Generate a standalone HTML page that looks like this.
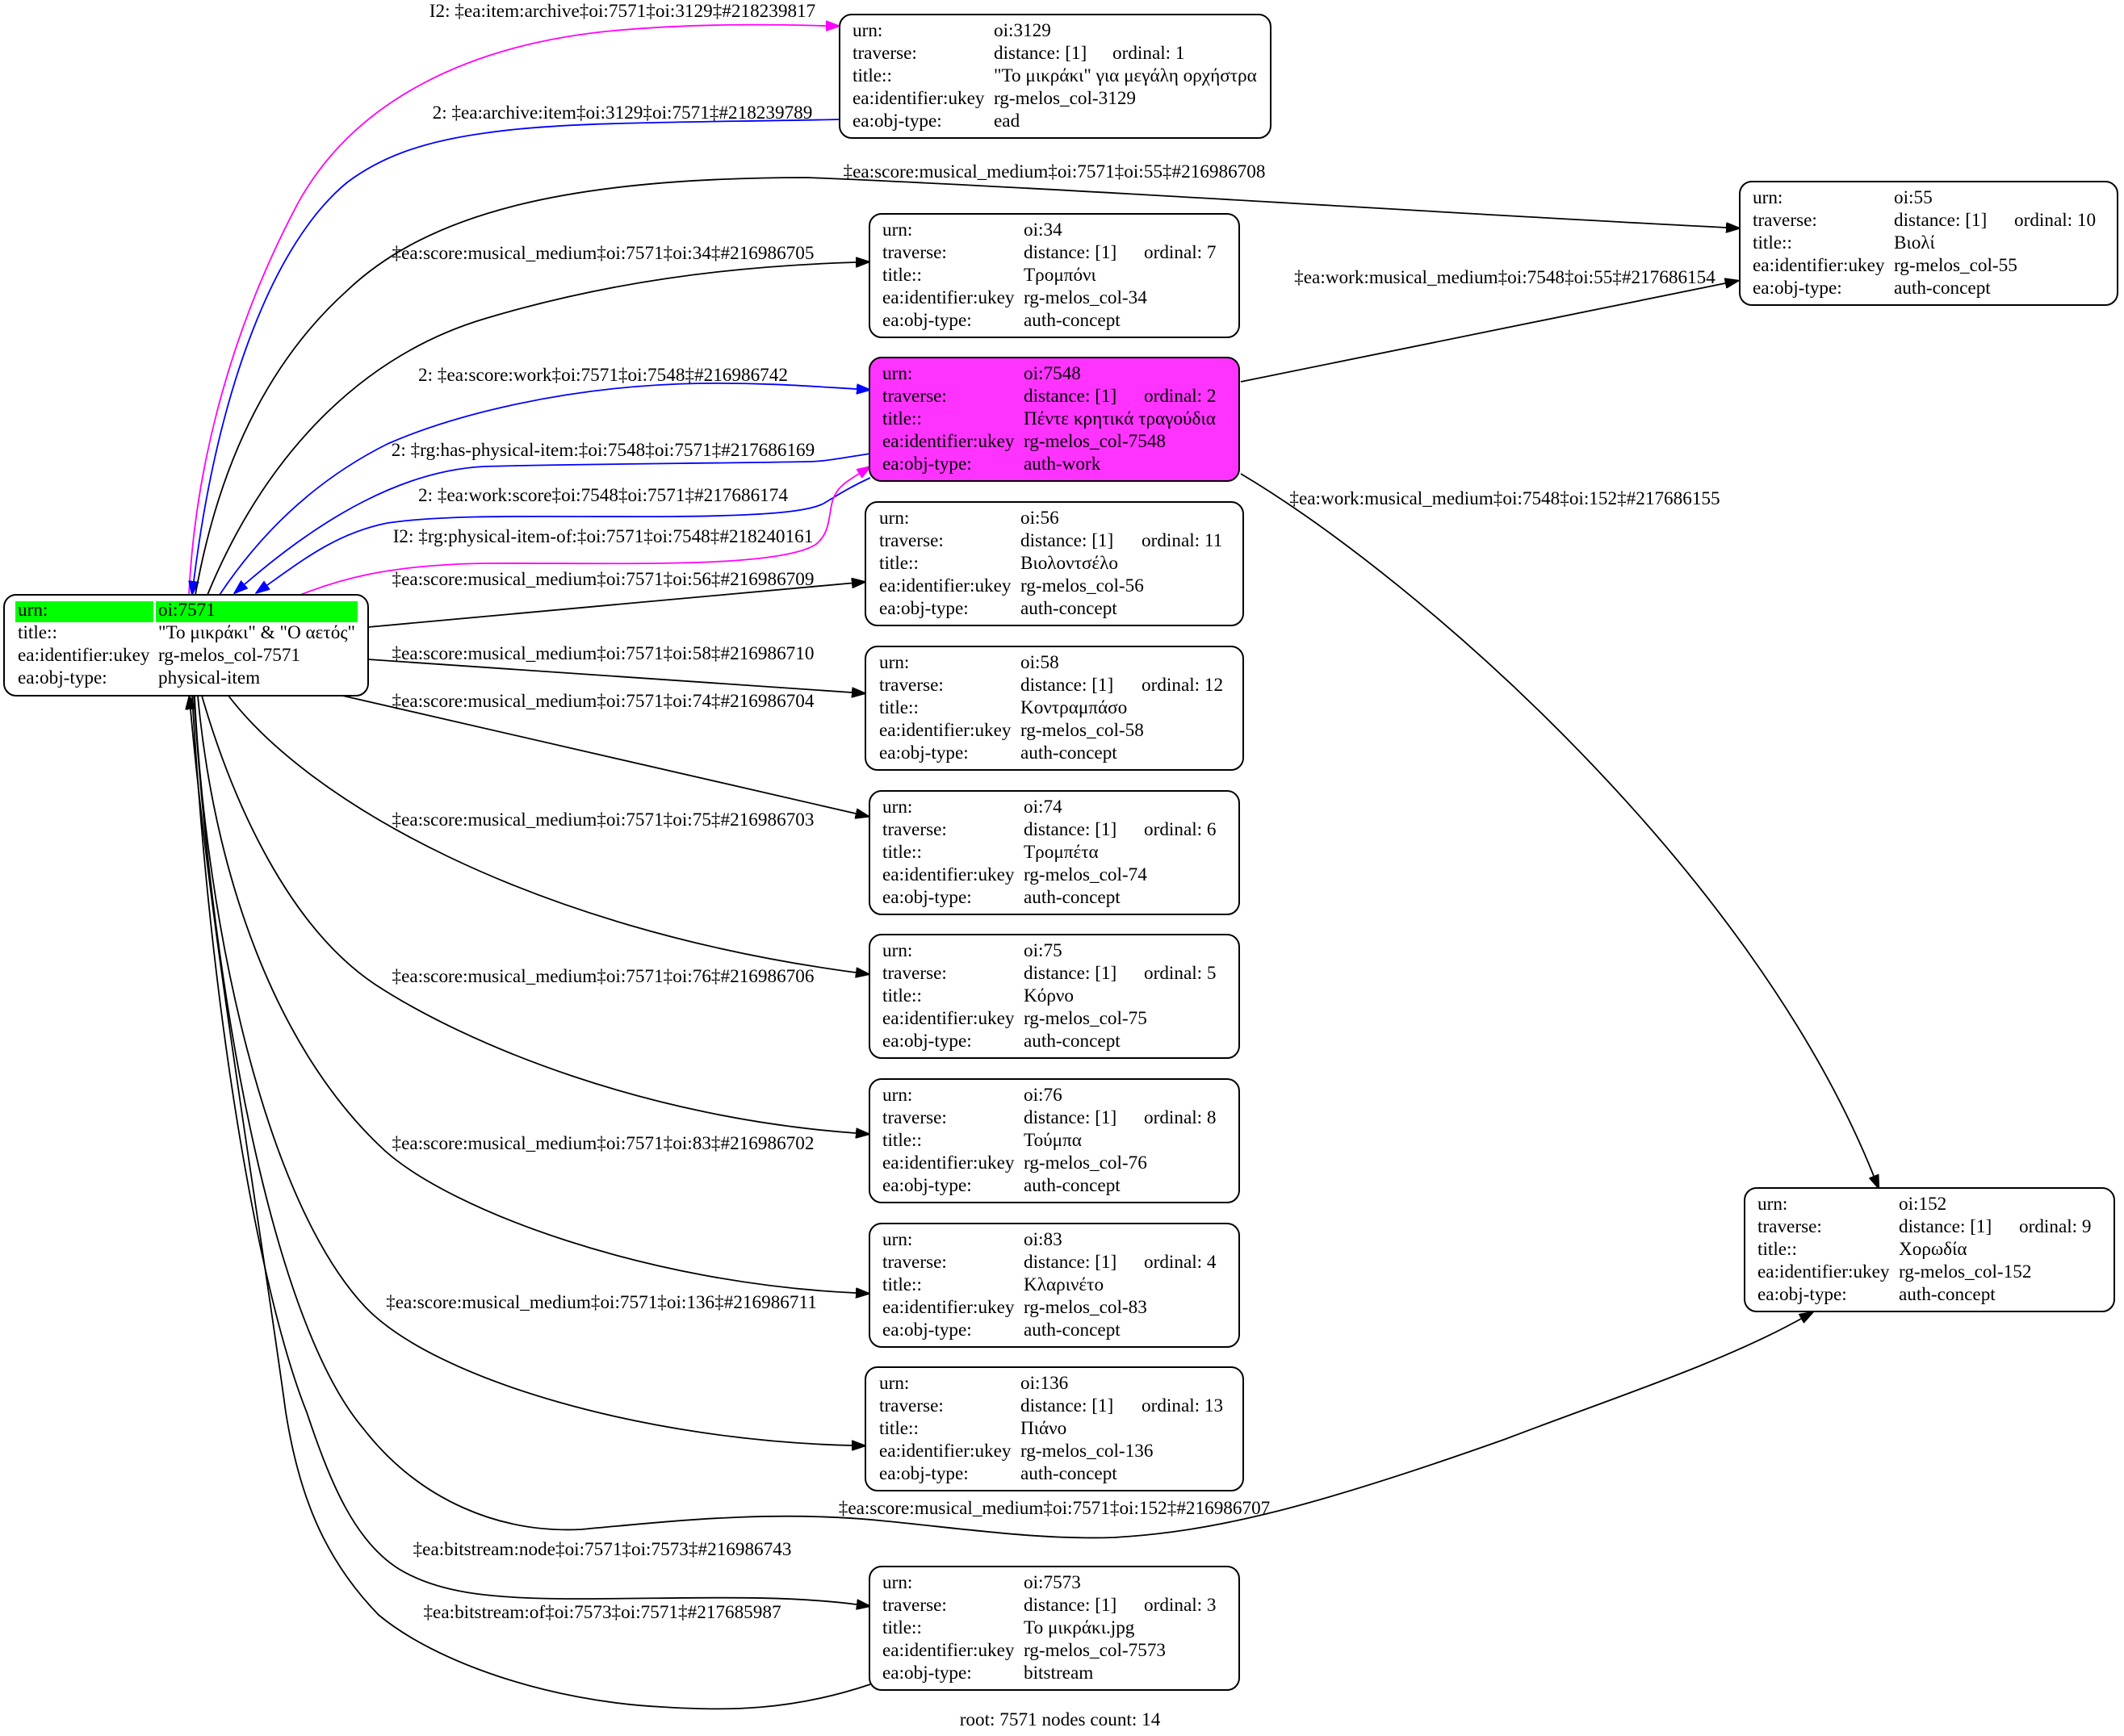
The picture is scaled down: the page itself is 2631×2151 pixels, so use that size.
<!DOCTYPE html>
<html>
<head>
<meta charset="utf-8">
<style>
html,body{margin:0;padding:0;background:#fff;}
svg{display:block;}
text{font-family:"Liberation Serif","DejaVu Serif",serif;font-size:23.2px;fill:#000;}
</style>
</head>
<body>
<svg width="2631" height="2151" viewBox="0 0 2631 2151" xmlns="http://www.w3.org/2000/svg">
<defs>
<marker id="ab" markerUnits="userSpaceOnUse" markerWidth="18" markerHeight="13" viewBox="0 0 17 12" refX="0" refY="6" orient="auto"><path d="M0,0 L17,6 L0,12 z" fill="#000" stroke="#000" stroke-width="1"/></marker>
<marker id="au" markerUnits="userSpaceOnUse" markerWidth="18" markerHeight="13" viewBox="0 0 17 12" refX="0" refY="6" orient="auto"><path d="M0,0 L17,6 L0,12 z" fill="#0000ff" stroke="#0000ff" stroke-width="1"/></marker>
<marker id="am" markerUnits="userSpaceOnUse" markerWidth="18" markerHeight="13" viewBox="0 0 17 12" refX="0" refY="6" orient="auto"><path d="M0,0 L17,6 L0,12 z" fill="#ff00ff" stroke="#ff00ff" stroke-width="1"/></marker>
</defs>
<rect x="0" y="0" width="2631" height="2151" fill="#fff"/>

<!-- EDGES -->
<g fill="none" stroke-width="1.8">
<path d="M234,737 C242,570 290,400 370,250 C440,125 580,55 760,38 C860,29 950,30 1023,32" stroke="#ff00ff" marker-end="url(#am)"/>
<path d="M1040,148 C850,152 700,150 600,165 C520,176 470,196 430,226 C340,300 270,480 240,720" stroke="#0000ff" marker-end="url(#au)"/>
<path d="M242,737 C270,580 330,450 430,360 C530,265 700,220 1000,220 C1300,232 1800,265 2138,282" stroke="#000" marker-end="url(#ab)"/>
<path d="M257,737 C330,560 450,440 600,395 C750,350 900,330 1060,325" stroke="#000" marker-end="url(#ab)"/>
<path d="M272,737 C330,650 400,590 480,550 C560,515 700,478 867,475 C950,474 1010,479 1061,482" stroke="#0000ff" marker-end="url(#au)"/>
<path d="M1078,562 C1040,568 1020,572 1000,572 C900,574 700,575 600,578 C500,583 400,640 303,724" stroke="#0000ff" marker-end="url(#au)"/>
<path d="M1078,592 C1050,605 1035,615 1020,624 C1000,634 950,639 833,640 C700,641 560,636 480,648 C420,660 380,690 331,725" stroke="#0000ff" marker-end="url(#au)"/>
<path d="M372,737 C420,718 480,700 600,698 C760,697 960,705 1010,675 C1030,660 1026,635 1032,618 C1038,603 1048,597 1064,587" stroke="#ff00ff" marker-end="url(#am)"/>
<path d="M456,777 L1055,722.5" stroke="#000" marker-end="url(#ab)"/>
<path d="M456,817 L1055,858" stroke="#000" marker-end="url(#ab)"/>
<path d="M420,861 L1060,1008" stroke="#000" marker-end="url(#ab)"/>
<path d="M283,862 C380,990 650,1150 1060,1205" stroke="#000" marker-end="url(#ab)"/>
<path d="M250,862 C290,1000 360,1150 465,1220 C580,1295 800,1385 1060,1404" stroke="#000" marker-end="url(#ab)"/>
<path d="M245,862 C265,1080 340,1300 477,1426 C560,1500 800,1590 1060,1602" stroke="#000" marker-end="url(#ab)"/>
<path d="M241,862 C255,1150 330,1490 453,1620 C540,1710 800,1785 1055,1791" stroke="#000" marker-end="url(#ab)"/>
<path d="M240,862 C265,1250 340,1640 450,1770 C520,1860 620,1900 720,1895 C830,1885 960,1870 1100,1885 C1200,1895 1290,1908 1380,1905 C1500,1898 1620,1870 1865,1783 C1990,1735 2130,1690 2231,1634" stroke="#000" marker-end="url(#ab)"/>
<path d="M238,862 C260,1250 320,1600 380,1750 C410,1840 440,1910 494,1944 C540,1972 600,1981 711,1981 C850,1981 960,1975 1061,1988" stroke="#000" marker-end="url(#ab)"/>
<path d="M1078,2087 C980,2120 900,2120 820,2115 C680,2108 540,2060 469,2001 C400,1930 370,1850 354,1750 C320,1500 260,1150 236,879" stroke="#000" marker-end="url(#ab)"/>
<path d="M1537,473 L2137,351" stroke="#000" marker-end="url(#ab)"/>
<path d="M1537,587 C1760,720 2170,1080 2321,1457" stroke="#000" marker-end="url(#ab)"/>
</g>

<!-- EDGE LABELS -->
<g text-anchor="middle">
<text x="771" y="21">I2: ‡ea:item:archive‡oi:7571‡oi:3129‡#218239817</text>
<text x="771" y="147">2: ‡ea:archive:item‡oi:3129‡oi:7571‡#218239789</text>
<text x="1306" y="220">‡ea:score:musical_medium‡oi:7571‡oi:55‡#216986708</text>
<text x="747" y="321">‡ea:score:musical_medium‡oi:7571‡oi:34‡#216986705</text>
<text x="1864" y="351">‡ea:work:musical_medium‡oi:7548‡oi:55‡#217686154</text>
<text x="747" y="472">2: ‡ea:score:work‡oi:7571‡oi:7548‡#216986742</text>
<text x="747" y="565">2: ‡rg:has-physical-item:‡oi:7548‡oi:7571‡#217686169</text>
<text x="747" y="621">2: ‡ea:work:score‡oi:7548‡oi:7571‡#217686174</text>
<text x="1864" y="625">‡ea:work:musical_medium‡oi:7548‡oi:152‡#217686155</text>
<text x="747" y="672">I2: ‡rg:physical-item-of:‡oi:7571‡oi:7548‡#218240161</text>
<text x="747" y="725">‡ea:score:musical_medium‡oi:7571‡oi:56‡#216986709</text>
<text x="747" y="817">‡ea:score:musical_medium‡oi:7571‡oi:58‡#216986710</text>
<text x="747" y="876">‡ea:score:musical_medium‡oi:7571‡oi:74‡#216986704</text>
<text x="747" y="1023">‡ea:score:musical_medium‡oi:7571‡oi:75‡#216986703</text>
<text x="747" y="1217">‡ea:score:musical_medium‡oi:7571‡oi:76‡#216986706</text>
<text x="747" y="1424">‡ea:score:musical_medium‡oi:7571‡oi:83‡#216986702</text>
<text x="745" y="1621">‡ea:score:musical_medium‡oi:7571‡oi:136‡#216986711</text>
<text x="1306" y="1876">‡ea:score:musical_medium‡oi:7571‡oi:152‡#216986707</text>
<text x="746" y="1927">‡ea:bitstream:node‡oi:7571‡oi:7573‡#216986743</text>
<text x="746" y="2005">‡ea:bitstream:of‡oi:7573‡oi:7571‡#217685987</text>
<text x="1313" y="2138">root: 7571 nodes count: 14</text>
</g>

<!-- ROOT NODE 7571 -->
<g transform="translate(5,737)">
<rect x="0" y="0" width="451" height="125" rx="15" ry="15" fill="#fff" stroke="#000" stroke-width="2"/>
<rect x="14" y="8" width="171" height="26" fill="#00ff00"/>
<rect x="188" y="8" width="250" height="26" fill="#00ff00"/>
<text x="17" y="26">urn:</text><text x="191" y="26">oi:7571</text>
<text x="17" y="54">title::</text><text x="191" y="54">"Το μικράκι" &amp; "Ο αετός"</text>
<text x="17" y="82">ea:identifier:ukey</text><text x="191" y="82">rg-melos_col-7571</text>
<text x="17" y="110">ea:obj-type:</text><text x="191" y="110">physical-item</text>
</g>

<!-- NODE 3129 -->
<g transform="translate(1040,18)">
<rect x="0" y="0" width="534" height="153" rx="15" ry="15" fill="#fff" stroke="#000" stroke-width="2"/>
<text x="16" y="27">urn:</text><text x="191" y="27">oi:3129</text>
<text x="16" y="55">traverse:</text><text x="191" y="55">distance: [1]</text><text x="338" y="55">ordinal: 1</text>
<text x="16" y="83">title::</text><text x="191" y="83">"Το μικράκι" για μεγάλη ορχήστρα</text>
<text x="16" y="111">ea:identifier:ukey</text><text x="191" y="111">rg-melos_col-3129</text>
<text x="16" y="139">ea:obj-type:</text><text x="191" y="139">ead</text>
</g>

<!-- NODE 55 -->
<g transform="translate(2155,225)">
<rect x="0" y="0" width="468" height="153" rx="15" ry="15" fill="#fff" stroke="#000" stroke-width="2"/>
<text x="16" y="27">urn:</text><text x="191" y="27">oi:55</text>
<text x="16" y="55">traverse:</text><text x="191" y="55">distance: [1]</text><text x="340" y="55">ordinal: 10</text>
<text x="16" y="83">title::</text><text x="191" y="83">Βιολί</text>
<text x="16" y="111">ea:identifier:ukey</text><text x="191" y="111">rg-melos_col-55</text>
<text x="16" y="139">ea:obj-type:</text><text x="191" y="139">auth-concept</text>
</g>

<!-- NODE 34 -->
<g transform="translate(1077,265)">
<rect x="0" y="0" width="458" height="153" rx="15" ry="15" fill="#fff" stroke="#000" stroke-width="2"/>
<text x="16" y="27">urn:</text><text x="191" y="27">oi:34</text>
<text x="16" y="55">traverse:</text><text x="191" y="55">distance: [1]</text><text x="340" y="55">ordinal: 7</text>
<text x="16" y="83">title::</text><text x="191" y="83">Τρομπόνι</text>
<text x="16" y="111">ea:identifier:ukey</text><text x="191" y="111">rg-melos_col-34</text>
<text x="16" y="139">ea:obj-type:</text><text x="191" y="139">auth-concept</text>
</g>

<!-- NODE 7548 -->
<g transform="translate(1077,443)">
<rect x="0" y="0" width="458" height="153" rx="15" ry="15" fill="#ff33ff" stroke="#000" stroke-width="2"/>
<text x="16" y="27">urn:</text><text x="191" y="27">oi:7548</text>
<text x="16" y="55">traverse:</text><text x="191" y="55">distance: [1]</text><text x="340" y="55">ordinal: 2</text>
<text x="16" y="83">title::</text><text x="191" y="83">Πέντε κρητικά τραγούδια</text>
<text x="16" y="111">ea:identifier:ukey</text><text x="191" y="111">rg-melos_col-7548</text>
<text x="16" y="139">ea:obj-type:</text><text x="191" y="139">auth-work</text>
</g>

<!-- NODE 56 -->
<g transform="translate(1072,622)">
<rect x="0" y="0" width="468" height="153" rx="15" ry="15" fill="#fff" stroke="#000" stroke-width="2"/>
<text x="17" y="27">urn:</text><text x="192" y="27">oi:56</text>
<text x="17" y="55">traverse:</text><text x="192" y="55">distance: [1]</text><text x="342" y="55">ordinal: 11</text>
<text x="17" y="83">title::</text><text x="192" y="83">Βιολοντσέλο</text>
<text x="17" y="111">ea:identifier:ukey</text><text x="192" y="111">rg-melos_col-56</text>
<text x="17" y="139">ea:obj-type:</text><text x="192" y="139">auth-concept</text>
</g>

<!-- NODE 58 -->
<g transform="translate(1072,801)">
<rect x="0" y="0" width="468" height="153" rx="15" ry="15" fill="#fff" stroke="#000" stroke-width="2"/>
<text x="17" y="27">urn:</text><text x="192" y="27">oi:58</text>
<text x="17" y="55">traverse:</text><text x="192" y="55">distance: [1]</text><text x="342" y="55">ordinal: 12</text>
<text x="17" y="83">title::</text><text x="192" y="83">Κοντραμπάσο</text>
<text x="17" y="111">ea:identifier:ukey</text><text x="192" y="111">rg-melos_col-58</text>
<text x="17" y="139">ea:obj-type:</text><text x="192" y="139">auth-concept</text>
</g>

<!-- NODE 74 -->
<g transform="translate(1077,980)">
<rect x="0" y="0" width="458" height="153" rx="15" ry="15" fill="#fff" stroke="#000" stroke-width="2"/>
<text x="16" y="27">urn:</text><text x="191" y="27">oi:74</text>
<text x="16" y="55">traverse:</text><text x="191" y="55">distance: [1]</text><text x="340" y="55">ordinal: 6</text>
<text x="16" y="83">title::</text><text x="191" y="83">Τρομπέτα</text>
<text x="16" y="111">ea:identifier:ukey</text><text x="191" y="111">rg-melos_col-74</text>
<text x="16" y="139">ea:obj-type:</text><text x="191" y="139">auth-concept</text>
</g>

<!-- NODE 75 -->
<g transform="translate(1077,1158)">
<rect x="0" y="0" width="458" height="153" rx="15" ry="15" fill="#fff" stroke="#000" stroke-width="2"/>
<text x="16" y="27">urn:</text><text x="191" y="27">oi:75</text>
<text x="16" y="55">traverse:</text><text x="191" y="55">distance: [1]</text><text x="340" y="55">ordinal: 5</text>
<text x="16" y="83">title::</text><text x="191" y="83">Κόρνο</text>
<text x="16" y="111">ea:identifier:ukey</text><text x="191" y="111">rg-melos_col-75</text>
<text x="16" y="139">ea:obj-type:</text><text x="191" y="139">auth-concept</text>
</g>

<!-- NODE 76 -->
<g transform="translate(1077,1337)">
<rect x="0" y="0" width="458" height="153" rx="15" ry="15" fill="#fff" stroke="#000" stroke-width="2"/>
<text x="16" y="27">urn:</text><text x="191" y="27">oi:76</text>
<text x="16" y="55">traverse:</text><text x="191" y="55">distance: [1]</text><text x="340" y="55">ordinal: 8</text>
<text x="16" y="83">title::</text><text x="191" y="83">Τούμπα</text>
<text x="16" y="111">ea:identifier:ukey</text><text x="191" y="111">rg-melos_col-76</text>
<text x="16" y="139">ea:obj-type:</text><text x="191" y="139">auth-concept</text>
</g>

<!-- NODE 83 -->
<g transform="translate(1077,1516)">
<rect x="0" y="0" width="458" height="153" rx="15" ry="15" fill="#fff" stroke="#000" stroke-width="2"/>
<text x="16" y="27">urn:</text><text x="191" y="27">oi:83</text>
<text x="16" y="55">traverse:</text><text x="191" y="55">distance: [1]</text><text x="340" y="55">ordinal: 4</text>
<text x="16" y="83">title::</text><text x="191" y="83">Κλαρινέτο</text>
<text x="16" y="111">ea:identifier:ukey</text><text x="191" y="111">rg-melos_col-83</text>
<text x="16" y="139">ea:obj-type:</text><text x="191" y="139">auth-concept</text>
</g>

<!-- NODE 136 -->
<g transform="translate(1072,1694)">
<rect x="0" y="0" width="468" height="153" rx="15" ry="15" fill="#fff" stroke="#000" stroke-width="2"/>
<text x="17" y="27">urn:</text><text x="192" y="27">oi:136</text>
<text x="17" y="55">traverse:</text><text x="192" y="55">distance: [1]</text><text x="342" y="55">ordinal: 13</text>
<text x="17" y="83">title::</text><text x="192" y="83">Πιάνο</text>
<text x="17" y="111">ea:identifier:ukey</text><text x="192" y="111">rg-melos_col-136</text>
<text x="17" y="139">ea:obj-type:</text><text x="192" y="139">auth-concept</text>
</g>

<!-- NODE 7573 -->
<g transform="translate(1077,1941)">
<rect x="0" y="0" width="458" height="153" rx="15" ry="15" fill="#fff" stroke="#000" stroke-width="2"/>
<text x="16" y="27">urn:</text><text x="191" y="27">oi:7573</text>
<text x="16" y="55">traverse:</text><text x="191" y="55">distance: [1]</text><text x="340" y="55">ordinal: 3</text>
<text x="16" y="83">title::</text><text x="191" y="83">Το μικράκι.jpg</text>
<text x="16" y="111">ea:identifier:ukey</text><text x="191" y="111">rg-melos_col-7573</text>
<text x="16" y="139">ea:obj-type:</text><text x="191" y="139">bitstream</text>
</g>

<!-- NODE 152 -->
<g transform="translate(2161,1472)">
<rect x="0" y="0" width="458" height="153" rx="15" ry="15" fill="#fff" stroke="#000" stroke-width="2"/>
<text x="16" y="27">urn:</text><text x="191" y="27">oi:152</text>
<text x="16" y="55">traverse:</text><text x="191" y="55">distance: [1]</text><text x="340" y="55">ordinal: 9</text>
<text x="16" y="83">title::</text><text x="191" y="83">Χορωδία</text>
<text x="16" y="111">ea:identifier:ukey</text><text x="191" y="111">rg-melos_col-152</text>
<text x="16" y="139">ea:obj-type:</text><text x="191" y="139">auth-concept</text>
</g>
</svg>
</body>
</html>
